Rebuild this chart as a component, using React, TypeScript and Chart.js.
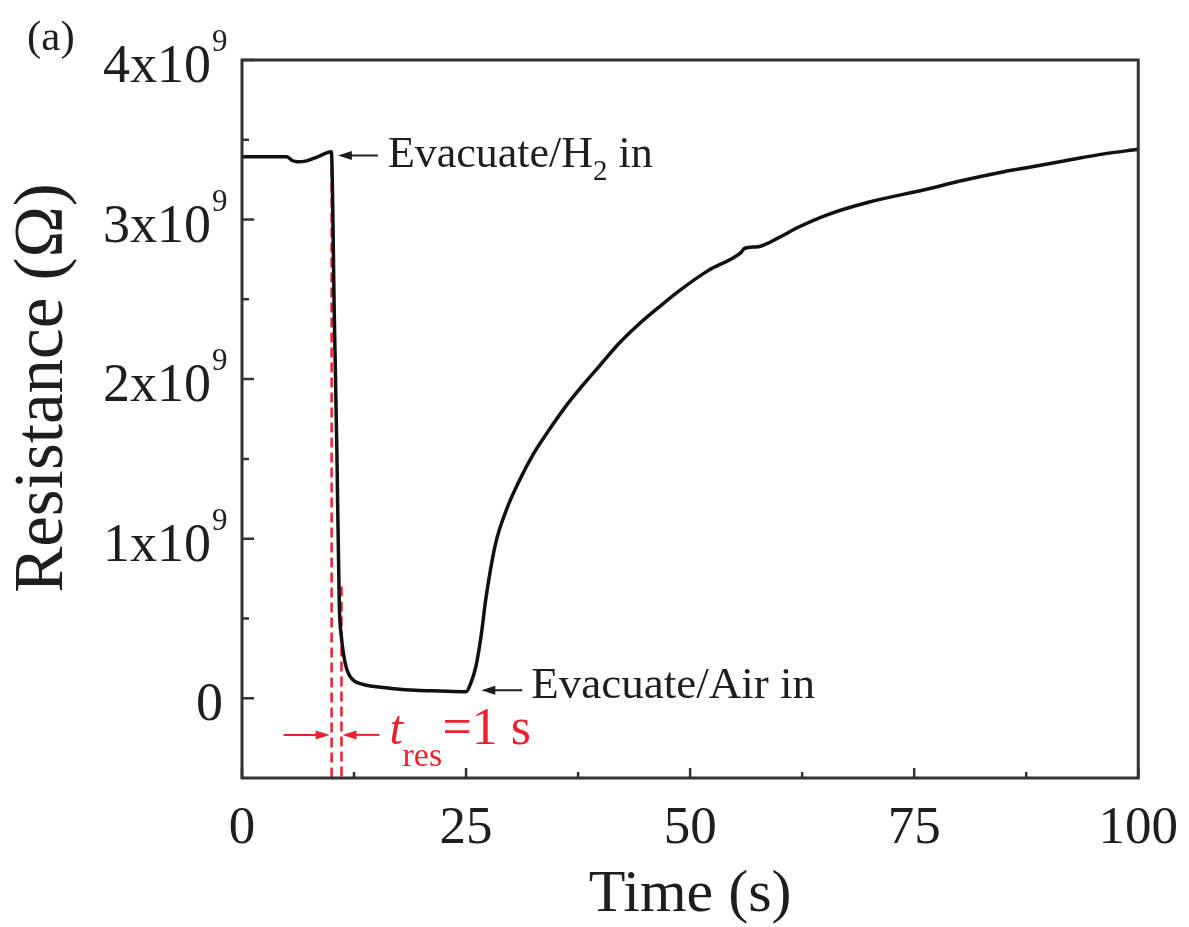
import React, { useEffect, useRef } from 'react';
import { Chart, registerables } from 'chart.js';

Chart.register(...registerables);

// ---- data (time in s, resistance in units of 1e9 ohm) ----
const timeS = [
  0, 2.5, 5.0, 5.6, 6.2, 7.2, 8.5, 9.97,
  10.3, 10.6, 10.85, 11.1, 11.6, 12.3, 13.3, 14.6, 17, 19.4, 22, 25,
  25.5, 26.1, 26.7, 27.2, 28.3, 29.5, 31, 32.5, 34, 36, 38, 40, 42, 44, 46.5, 48.7,
  52, 55.6, 56.1, 57.6, 60, 62, 65.3, 70, 76.4, 80, 85, 88, 92, 96, 100,
];
const resistanceE9 = [
  3.394, 3.394, 3.394, 3.37, 3.362, 3.368, 3.395, 3.425,
  2.4, 1.5, 0.6, 0.38, 0.2, 0.12, 0.09, 0.075, 0.06, 0.05, 0.045, 0.04,
  0.09, 0.2, 0.4, 0.62, 0.97, 1.18, 1.37, 1.53, 1.66, 1.82, 1.96, 2.09, 2.22, 2.33, 2.45, 2.55,
  2.68, 2.79, 2.82, 2.83, 2.89, 2.95, 3.03, 3.11, 3.19, 3.24, 3.3, 3.33, 3.37, 3.41, 3.44,
];

const xMajorTicks = [0, 25, 50, 75, 100];
const xMinorTicks = [12.5, 37.5, 62.5, 87.5];
const yMajorTicks = [0, 1e9, 2e9, 3e9, 4e9];
const yTickBase = ['0', '1x10', '2x10', '3x10', '4x10'];
const yTickExp = ['', '9', '9', '9', '9'];
const yMinorTicks = [0.5e9, 1.5e9, 2.5e9, 3.5e9];

// response-time markers: [time, top value of dashed line]
const markerTimes = [10.0, 11.1];
const markerTops = [3.42e9, 0.7e9];

const h2ArrowPoint = { t: 10.7, r: 3.42e9 };
const airArrowPoint = { t: 26.7, r: 0.05e9 };
const resArrowLevel = -0.23e9;

const SERIF = '"Liberation Serif", "Times New Roman", serif';
const RED = '#e8232e';
const INK = '#1e1e1e';
const AXIS = '#333333';

function arrow(ctx: CanvasRenderingContext2D, tipX: number, y: number, fromX: number, color: string) {
  const dir = fromX > tipX ? 1 : -1;
  ctx.save();
  ctx.strokeStyle = color;
  ctx.fillStyle = color;
  ctx.lineWidth = 2;
  ctx.setLineDash([]);
  ctx.beginPath();
  ctx.moveTo(fromX, y);
  ctx.lineTo(tipX + dir * 8, y);
  ctx.stroke();
  ctx.beginPath();
  ctx.moveTo(tipX, y);
  ctx.lineTo(tipX + dir * 14, y - 4.5);
  ctx.lineTo(tipX + dir * 14, y + 4.5);
  ctx.closePath();
  ctx.fill();
  ctx.restore();
}

const decor = {
  id: 'decor',
  beforeDatasetsDraw(chart: any) {
    const { ctx, scales } = chart;
    const x = scales.x, y = scales.y;
    ctx.save();
    ctx.strokeStyle = RED;
    ctx.lineWidth = 2.5;
    ctx.setLineDash([10, 5]);
    markerTimes.forEach((t, i) => {
      const px = x.getPixelForValue(t);
      ctx.beginPath();
      ctx.moveTo(px, y.getPixelForValue(markerTops[i]));
      ctx.lineTo(px, chart.chartArea.bottom);
      ctx.stroke();
    });
    ctx.restore();
  },
  afterDraw(chart: any) {
    const { ctx, chartArea: a, scales } = chart;
    const x = scales.x, y = scales.y;
    ctx.save();
    // frame
    ctx.strokeStyle = AXIS;
    ctx.lineWidth = 3;
    ctx.strokeRect(a.left, a.top, a.right - a.left, a.bottom - a.top);
    // ticks (inside)
    ctx.lineWidth = 2.5;
    ctx.beginPath();
    xMajorTicks.forEach((v) => {
      const px = x.getPixelForValue(v);
      ctx.moveTo(px, a.bottom); ctx.lineTo(px, a.bottom - 10);
    });
    xMinorTicks.forEach((v) => {
      const px = x.getPixelForValue(v);
      ctx.moveTo(px, a.bottom); ctx.lineTo(px, a.bottom - 6);
    });
    yMajorTicks.forEach((v) => {
      const py = y.getPixelForValue(v);
      ctx.moveTo(a.left, py); ctx.lineTo(a.left + 12, py);
    });
    yMinorTicks.forEach((v) => {
      const py = y.getPixelForValue(v);
      ctx.moveTo(a.left, py); ctx.lineTo(a.left + 7, py);
    });
    ctx.stroke();

    // y tick labels with superscripts
    ctx.fillStyle = INK;
    ctx.textBaseline = 'alphabetic';
    yMajorTicks.forEach((v, i) => {
      const py = y.getPixelForValue(v);
      if (yTickExp[i]) {
        ctx.font = `54px ${SERIF}`;
        ctx.textAlign = 'right';
        ctx.fillText(yTickBase[i], a.left - 31, py + 22);
        ctx.font = `31px ${SERIF}`;
        ctx.textAlign = 'left';
        ctx.fillText(yTickExp[i], a.left - 30, py - 9);
      } else {
        ctx.font = `54px ${SERIF}`;
        ctx.textAlign = 'right';
        ctx.fillText(yTickBase[i], a.left - 19, py + 22);
      }
    });

    // y title
    ctx.save();
    ctx.translate(62, 388);
    ctx.rotate(-Math.PI / 2);
    ctx.font = `69px ${SERIF}`;
    ctx.textAlign = 'center';
    ctx.textBaseline = 'alphabetic';
    ctx.fillText('Resistance (\u03A9)', 0, 0);
    ctx.restore();

    // panel label
    ctx.font = `43px ${SERIF}`;
    ctx.textAlign = 'left';
    ctx.fillText('(a)', 27, 50);

    // H2 annotation
    const hx = x.getPixelForValue(h2ArrowPoint.t);
    const hy = y.getPixelForValue(h2ArrowPoint.r);
    arrow(ctx, hx, hy + 3, hx + 40, INK);
    ctx.fillStyle = INK;
    ctx.font = `44px ${SERIF}`;
    ctx.textAlign = 'left';
    let tx = hx + 50;
    const base1 = hy + 14;
    ctx.fillText('Evacuate/H', tx, base1);
    tx += ctx.measureText('Evacuate/H').width;
    ctx.font = `29px ${SERIF}`;
    ctx.fillText('2', tx, base1 + 13);
    tx += ctx.measureText('2').width;
    ctx.font = `44px ${SERIF}`;
    ctx.fillText(' in', tx, base1);

    // Air annotation
    const ax = x.getPixelForValue(airArrowPoint.t);
    const ay = y.getPixelForValue(airArrowPoint.r);
    arrow(ctx, ax, ay, ax + 41, INK);
    ctx.fillStyle = INK;
    ctx.font = `45px ${SERIF}`;
    ctx.fillText('Evacuate/Air in', ax + 50, ay + 8);

    // response time arrows + label
    const m1 = x.getPixelForValue(markerTimes[0]);
    const m2 = x.getPixelForValue(markerTimes[1]);
    const ry = y.getPixelForValue(resArrowLevel);
    arrow(ctx, m1 - 2, ry, m1 - 48, RED);
    arrow(ctx, m2 + 1, ry, m2 + 38, RED);
    ctx.fillStyle = RED;
    ctx.font = `italic 48px ${SERIF}`;
    ctx.fillText('t', m2 + 48, ry + 9);
    ctx.font = `34px ${SERIF}`;
    ctx.fillText('res', m2 + 61, ry + 31);
    ctx.font = `52px ${SERIF}`;
    ctx.fillText('=1 s', m2 + 101, ry + 9);

    ctx.restore();
  },
};

export default function App() {
  const ref = useRef<HTMLCanvasElement | null>(null);
  useEffect(() => {
    if (!ref.current) return;
    const points = timeS.map((t, i) => ({ x: t, y: resistanceE9[i] * 1e9 }));
    const chart = new Chart(ref.current, {
      type: 'line',
      data: {
        datasets: [
          {
            data: points,
            borderColor: '#111111',
            borderWidth: 3.5,
            pointRadius: 0,
            cubicInterpolationMode: 'monotone',
            fill: false,
          },
        ],
      },
      options: {
        animation: false,
        responsive: true,
        maintainAspectRatio: false,
        layout: { padding: { top: 60, right: 47, left: 0, bottom: 0 } },
        plugins: { legend: { display: false }, tooltip: { enabled: false } },
        scales: {
          x: {
            type: 'linear',
            min: 0,
            max: 100,
            grid: { display: false },
            border: { display: false },
            ticks: {
              stepSize: 25,
              padding: 11,
              color: INK,
              font: { family: SERIF, size: 53, lineHeight: 1.2 },
              maxRotation: 0,
            },
            title: {
              display: true,
              text: 'Time (s)',
              color: INK,
              font: { family: SERIF, size: 60, lineHeight: 1.07 },
              padding: 0,
            },
            afterFit: (s: any) => { s.height = 149; },
          },
          y: {
            type: 'linear',
            min: -0.5e9,
            max: 4e9,
            grid: { display: false },
            border: { display: false },
            ticks: { display: false },
            afterFit: (s: any) => { s.width = 242; },
          },
        },
      },
      plugins: [decor],
    } as any);
    return () => chart.destroy();
  }, []);
  return (
    <div style={{ position: 'absolute', left: 0, top: 0, width: 1189, height: 927, background: '#fff' }}>
      <canvas ref={ref} />
    </div>
  );
}
